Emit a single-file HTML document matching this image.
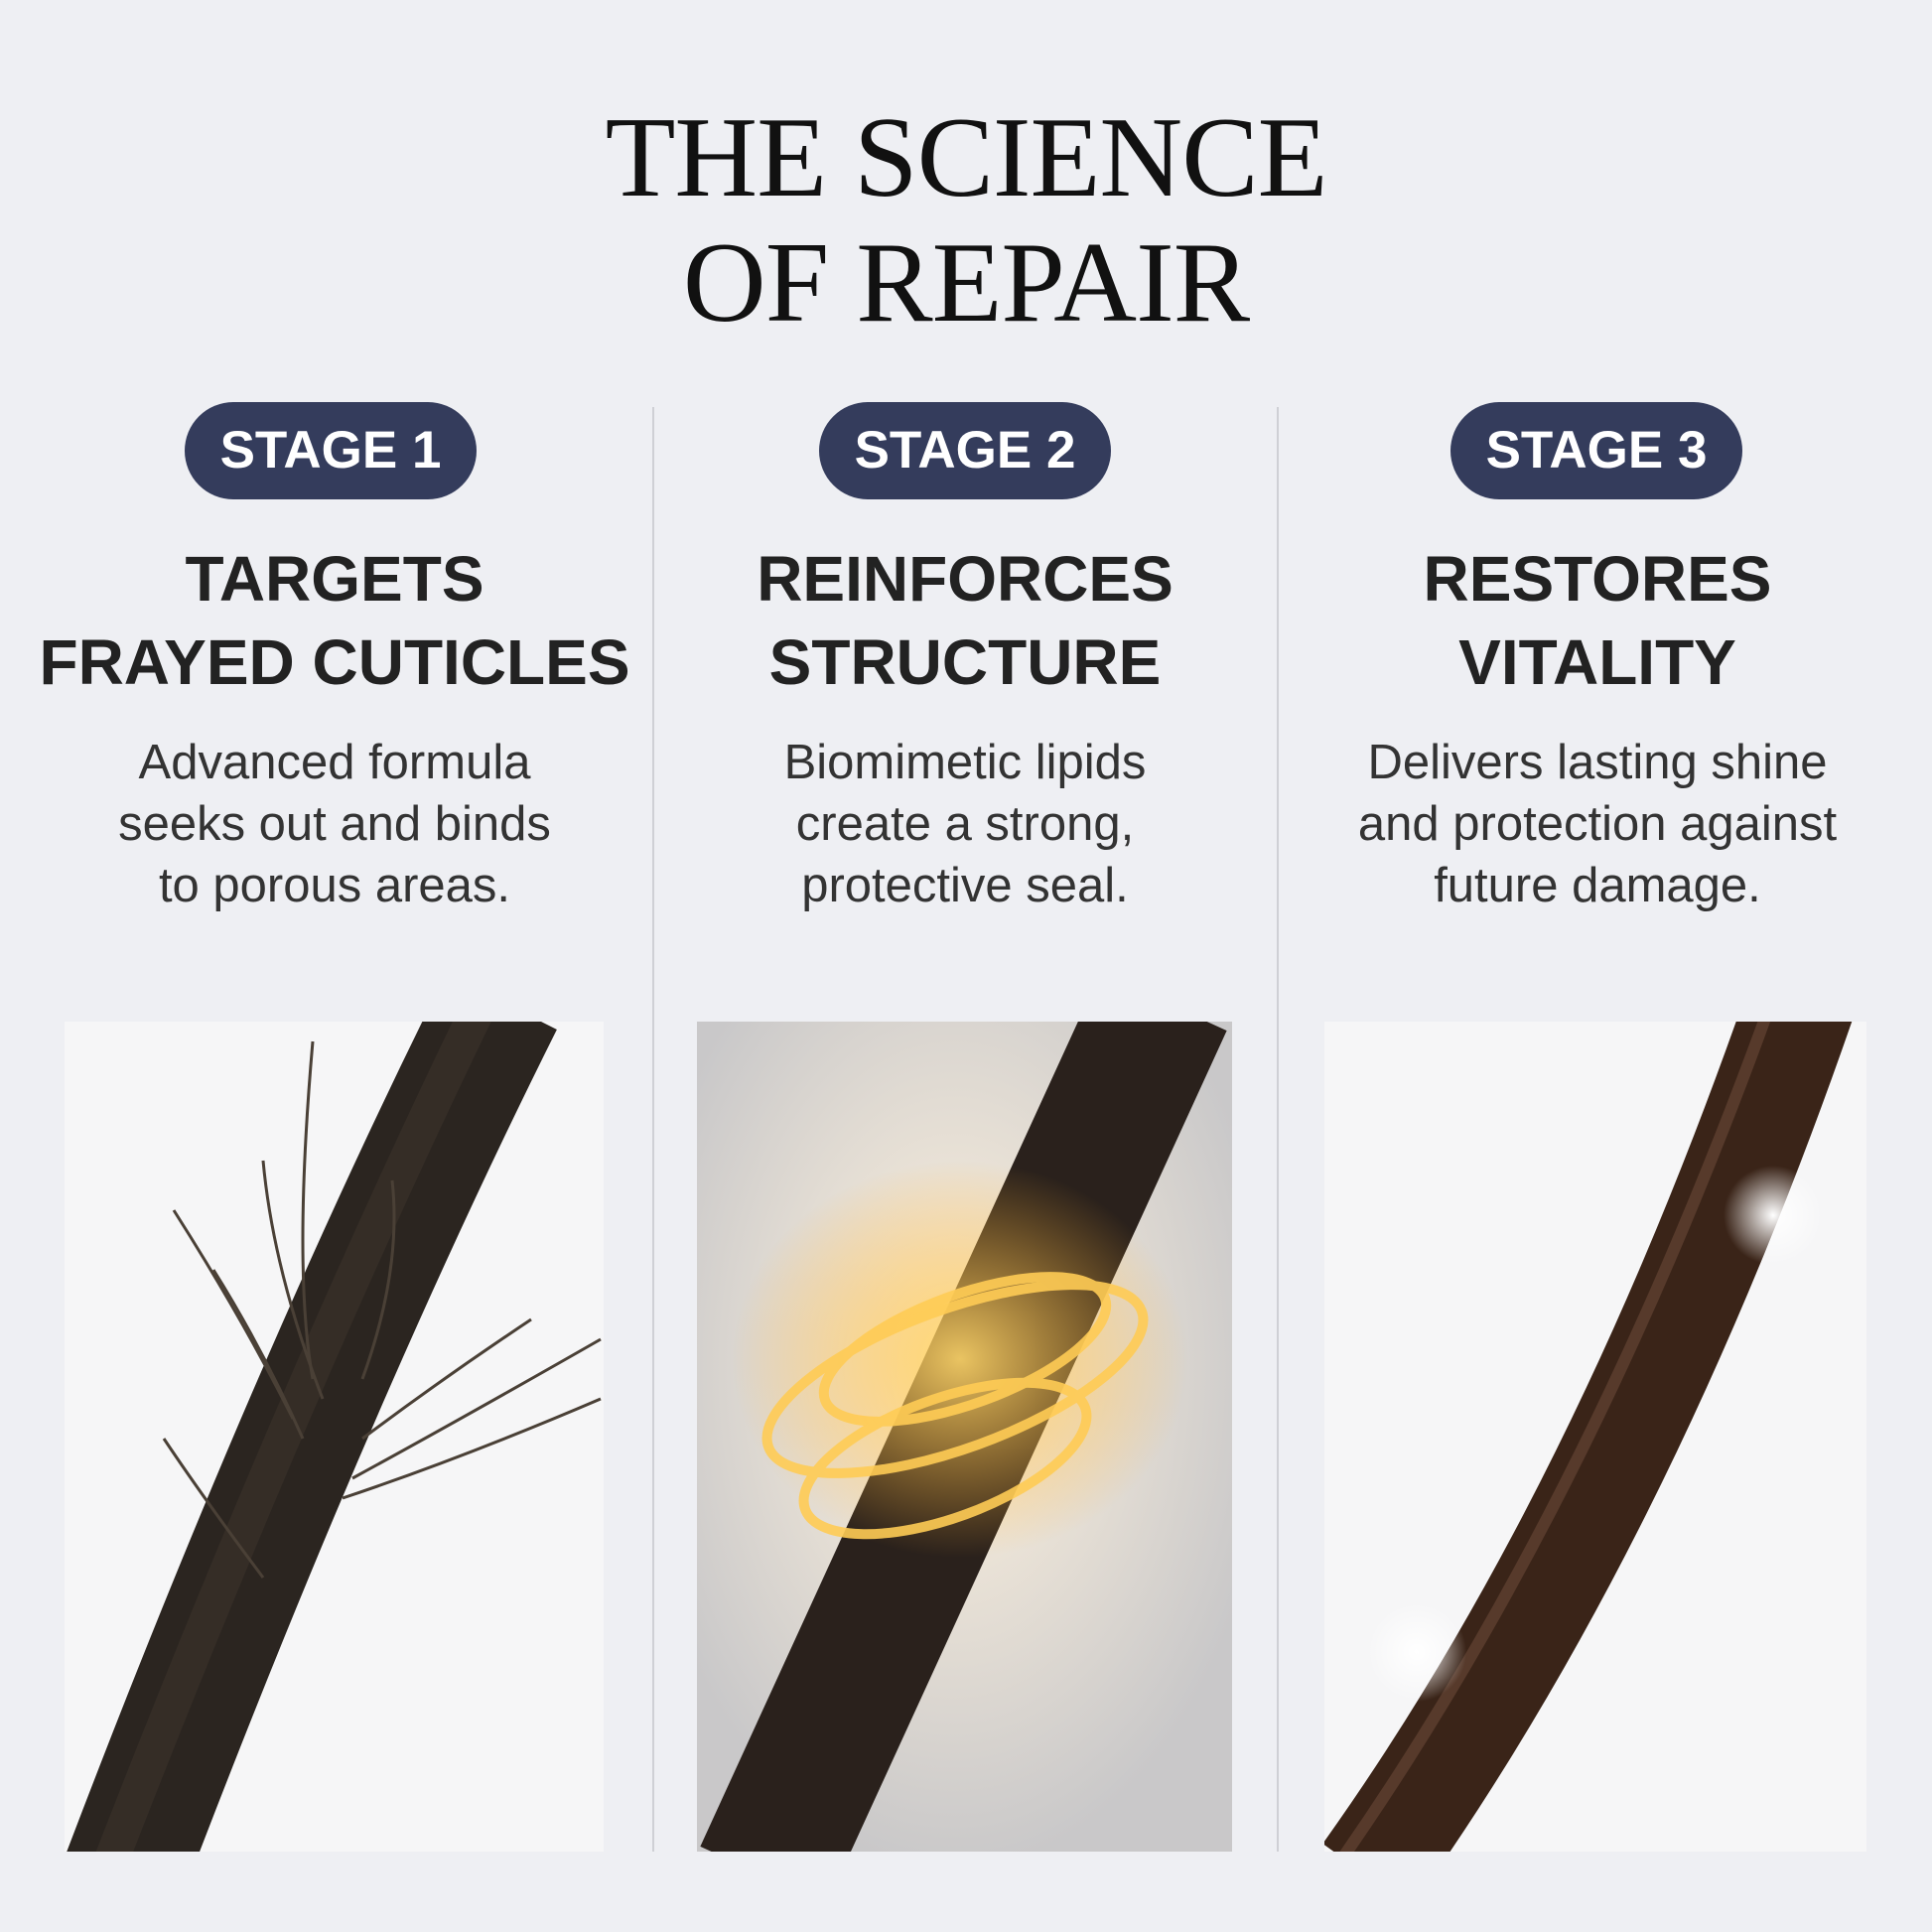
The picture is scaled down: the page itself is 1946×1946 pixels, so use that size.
<!DOCTYPE html>
<html><head><meta charset="utf-8"><style>
body{margin:0;width:1946px;height:1946px;background:#eeeff3;position:relative;overflow:hidden;font-family:"Liberation Sans",sans-serif}
.t{position:absolute;left:0;width:1946px;text-align:center;font-family:"Liberation Serif",serif;font-size:116px;color:#111;line-height:1;letter-spacing:-1px}
.pill{position:absolute;top:405px;height:98px;width:294px;border-radius:49px;background:#343c5c;color:#fff;font-weight:bold;font-size:53px;line-height:98px;text-align:center}
.div{position:absolute;top:410px;width:2px;height:1455px;background:#cfd0d5}
.h{position:absolute;width:640px;text-align:center;font-weight:bold;font-size:64px;line-height:84px;color:#222;top:541px}
.b{position:absolute;width:640px;text-align:center;font-size:49px;line-height:62px;color:#333;top:737px}
svg{position:absolute}
</style></head><body>
<div class="t" style="top:101px">THE SCIENCE</div>
<div class="t" style="top:227px">OF REPAIR</div>
<div class="div" style="left:657px"></div>
<div class="div" style="left:1286px"></div>
<div class="pill" style="left:186px">STAGE 1</div>
<div class="pill" style="left:825px">STAGE 2</div>
<div class="pill" style="left:1461px">STAGE 3</div>
<div class="h" style="left:17px">TARGETS<br>FRAYED CUTICLES</div>
<div class="h" style="left:652px">REINFORCES<br>STRUCTURE</div>
<div class="h" style="left:1289px">RESTORES<br>VITALITY</div>
<div class="b" style="left:17px">Advanced formula<br>seeks out and binds<br>to porous areas.</div>
<div class="b" style="left:652px">Biomimetic lipids<br>create a strong,<br>protective seal.</div>
<div class="b" style="left:1289px">Delivers lasting shine<br>and protection against<br>future damage.</div>

<svg style="left:65px;top:1029px" width="543" height="836" viewBox="0 0 543 836">
<rect width="543" height="836" fill="#f6f6f7"/>
<path d="M60 860 Q250 360 440 -20" fill="none" stroke="#2b2520" stroke-width="125"/>
<path d="M45 850 Q235 360 420 -20" fill="none" stroke="#3c342c" stroke-width="35" opacity=".6"/>
<g stroke="#4a4036" stroke-width="3" fill="none">
<path d="M230 400 Q180 300 110 190"/><path d="M240 420 Q200 330 150 250"/><path d="M250 360 Q230 250 250 20"/>
<path d="M300 420 Q380 360 470 300"/><path d="M290 460 Q400 400 540 320"/><path d="M280 480 Q400 440 540 380"/>
<path d="M300 360 Q340 250 330 160"/><path d="M200 560 Q140 480 100 420"/><path d="M260 380 Q210 250 200 140"/>
</g></svg>

<svg style="left:702px;top:1029px" width="539" height="836" viewBox="0 0 539 836">
<defs><radialGradient id="g" cx="0.48" cy="0.42" r="0.6"><stop offset="0" stop-color="#fff3df"/><stop offset="1" stop-color="#c9c8c9"/></radialGradient>
<radialGradient id="o" cx="0.5" cy="0.5" r="0.5"><stop offset="0" stop-color="#ffd66a" stop-opacity=".9"/><stop offset="1" stop-color="#ffb030" stop-opacity="0"/></radialGradient></defs>
<rect width="539" height="836" fill="url(#g)"/>
<line x1="67" y1="860" x2="470" y2="-20" stroke="#2a211c" stroke-width="140"/>
<ellipse cx="265" cy="340" rx="230" ry="200" fill="url(#o)"/>
<g fill="none" stroke="#ffcc55" stroke-width="10" opacity=".9">
<ellipse cx="270" cy="330" rx="150" ry="55" transform="rotate(-20 270 330)"/>
<ellipse cx="260" cy="360" rx="200" ry="70" transform="rotate(-20 260 360)"/>
<ellipse cx="250" cy="440" rx="150" ry="60" transform="rotate(-20 250 440)"/>
</g></svg>

<svg style="left:1334px;top:1029px" width="546" height="836" viewBox="0 0 546 836">
<defs><radialGradient id="s" cx=".5" cy=".5" r=".5"><stop offset="0" stop-color="#fff"/><stop offset="1" stop-color="#fff" stop-opacity="0"/></radialGradient></defs>
<rect width="546" height="836" fill="#f6f6f7"/>
<path d="M43 860 Q300 500 480 -20" fill="none" stroke="#3a2418" stroke-width="110"/>
<path d="M20 840 Q270 480 450 -20" fill="none" stroke="#6a4a38" stroke-width="12" opacity=".6"/>
<circle cx="452" cy="195" r="50" fill="url(#s)"/>
<circle cx="93" cy="635" r="50" fill="url(#s)"/>
</svg>
</body></html>
